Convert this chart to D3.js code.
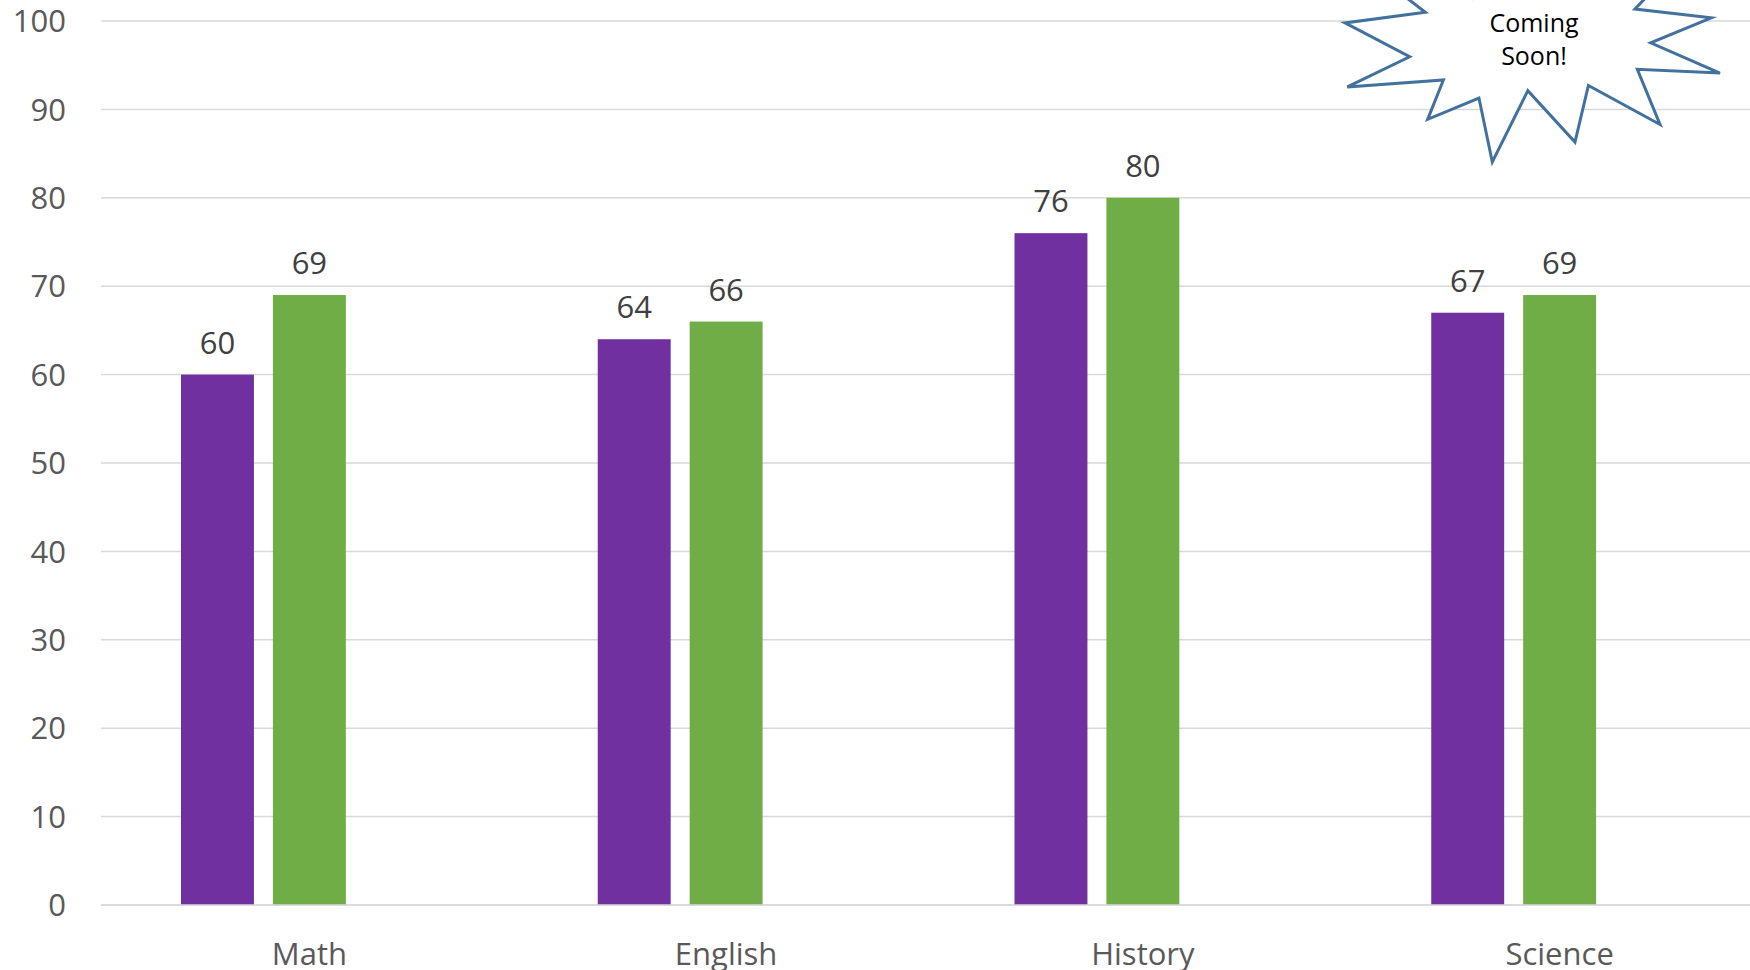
<!DOCTYPE html>
<html>
<head>
<meta charset="utf-8">
<script src="https://cdn.jsdelivr.net/npm/d3@7"></script>
<style>
  html, body { margin: 0; padding: 0; background: #ffffff; }
  svg { display: block; }
  text { font-family: "Open Sans", "Noto Sans", sans-serif; }
</style>
</head>
<body>
<svg id="chart" width="1750" height="970"></svg>
<script>
// ---- data ----
const categories = ["Math", "English", "History", "Science"];
const seriesNames = ["Series1", "Series2", "Series3"];   // Series3 is empty ("Coming Soon!")
const series1 = [60, 64, 76, 67];
const series2 = [69, 66, 80, 69];
const series3 = [null, null, null, null];
const yTicks = [0, 10, 20, 30, 40, 50, 60, 70, 80, 90, 100];
const calloutLines = ["Coming", "Soon!"];
// Explosion shape outline (preset "irregularSeal1" geometry, 21600 units)
const sealPoints = [[10800,5800],[14522,0],[14155,5325],[18380,4457],[16702,7315],[21097,8137],[17607,10475],[21600,13290],[16837,12942],[18145,18095],[14020,14457],[13247,19737],[10532,14935],[8485,21600],[7715,15627],[4762,17617],[5667,13937],[135,14587],[3722,11775],[0,8615],[4627,7617],[370,2295],[7312,6320],[8352,2295]];

const colors = ["#7030A0", "#70AD47", "#4472C4"];
const values = [series1, series2, series3];

const svg = d3.select("#chart");
const W = 1750, H = 970;
const plotLeft = 101, plotRight = 1768;
const plotTop = 21, plotBottom = 905;

const x0 = d3.scaleBand().domain(categories).range([plotLeft, plotRight]).padding(0);
const bw = x0.bandwidth();
const x1 = d3.scaleBand().domain(seriesNames).range([80, bw - 80]).paddingInner(19 / 92).paddingOuter(0);
const y = d3.scaleLinear().domain([0, 100]).range([plotBottom, plotTop]);

// gridlines
svg.append("g").selectAll("line").data(yTicks).join("line")
  .attr("x1", plotLeft).attr("x2", W)
  .attr("y1", d => y(d)).attr("y2", d => y(d))
  .attr("stroke", "#D9D9D9").attr("stroke-width", 1.5);

// y tick labels
svg.append("g").selectAll("text").data(yTicks).join("text")
  .attr("x", 66).attr("y", d => y(d)).attr("dy", "0.36em")
  .attr("text-anchor", "end")
  .attr("font-size", 31).attr("fill", "#595959")
  .text(d => d);

// bars
const rows = [];
values.forEach((vals, si) => {
  vals.forEach((v, ci) => {
    if (v != null) rows.push({ cat: categories[ci], s: seriesNames[si], v, si });
  });
});

svg.append("g").selectAll("rect").data(rows).join("rect")
  .attr("x", d => x0(d.cat) + x1(d.s))
  .attr("width", x1.bandwidth())
  .attr("y", d => y(d.v))
  .attr("height", d => y(0) - y(d.v))
  .attr("fill", d => colors[d.si]);

// baseline
svg.append("line")
  .attr("x1", plotLeft).attr("x2", W)
  .attr("y1", y(0)).attr("y2", y(0))
  .attr("stroke", "#D9D9D9").attr("stroke-width", 1.5);

// data labels
svg.append("g").selectAll("text").data(rows).join("text")
  .attr("x", d => x0(d.cat) + x1(d.s) + x1.bandwidth() / 2)
  .attr("y", d => y(d.v) - 21)
  .attr("text-anchor", "middle")
  .attr("font-size", 31).attr("fill", "#404040")
  .text(d => d.v);

// category labels (centered on middle slot)
svg.append("g").selectAll("text").data(categories).join("text")
  .attr("x", d => x0(d) + x1(seriesNames[1]) + x1.bandwidth() / 2)
  .attr("y", 965)
  .attr("text-anchor", "middle")
  .attr("font-size", 31).attr("fill", "#595959")
  .text(d => d);

// "Coming Soon!" explosion callout
const sx = d3.scaleLinear().domain([0, 21600]).range([1345, 1720]);
const sy = d3.scaleLinear().domain([0, 21600]).range([-69.3, 162]);
const g = svg.append("g");
g.append("path")
  .attr("d", d3.line().x(p => sx(p[0])).y(p => sy(p[1])).curve(d3.curveLinearClosed)(sealPoints))
  .attr("fill", "#ffffff")
  .attr("stroke", "#41719C")
  .attr("stroke-width", 3)
  .attr("stroke-linejoin", "miter");
g.selectAll("text").data(calloutLines).join("text")
  .attr("x", 1534)
  .attr("y", (d, i) => 32 + i * 33)
  .attr("text-anchor", "middle")
  .attr("font-size", 25).attr("fill", "#000000")
  .text(d => d);
</script>
</body>
</html>
